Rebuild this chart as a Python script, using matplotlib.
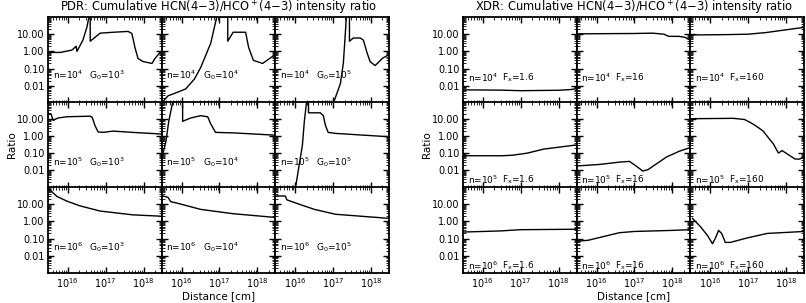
import matplotlib
matplotlib.use("Agg")
import matplotlib.pyplot as plt
from matplotlib.ticker import FixedLocator, LogLocator, NullFormatter

plt.rcParams["font.family"] = ["DejaVu Sans"]
plt.rcParams["mathtext.fontset"] = "dejavusans"

# --- PDR panels (distance in cm, cumulative HCN/HCO+ ratio) ---
pdr_n4_g3_x = [3.0e15, 6.3e15, 1.29e16, 1.66e16, 1.74e16, 2.5e16, 3.2e16, 3.6e16, 3.9e16, 3.9e16,
               7.1e16, 1.6e17, 3.9e17, 4.9e17, 5.9e17, 7.1e17, 9.5e17, 1.66e18, 2.0e18, 2.7e18, 3.0e18]
pdr_n4_g3_y = [0.87, 0.87, 1.2, 2.0, 1.0, 4.5, 26, 100, 100, 3.9,
               11.5, 13, 14.5, 11, 1.7, 0.39, 0.26, 0.2, 0.39, 0.87, 0.9]
pdr_n4_g4_x = [3.0e15, 4.4e15, 9.5e15, 1.29e16, 2.2e16, 3.2e16, 4.5e16, 5.9e16, 8.5e16, 1.66e17,
               1.66e17, 2.3e17, 4.9e17, 5.9e17, 7.9e17, 1.38e18, 2.5e18, 3.0e18]
pdr_n4_g4_y = [0.001, 0.0026, 0.005, 0.0066, 0.025, 0.115, 0.7, 3.0, 100, 100,
               3.9, 13, 13, 1.7, 0.3, 0.2, 0.5, 0.6]
pdr_n4_g5_x = [1.02e17, 1.55e17, 1.86e17, 2.24e17, 2.7e17, 2.7e17, 3.4e17, 5.2e17, 6.3e17, 7.9e17,
               9.5e17, 1.29e18, 2.0e18, 2.8e18, 3.0e18]
pdr_n4_g5_y = [0.001, 0.013, 0.2, 100, 100, 3.9, 6, 6, 4.5, 0.8,
               0.25, 0.15, 0.4, 0.6, 0.6]

pdr_n5_g3_x = [3.0e15, 3.6e15, 4.1e15, 5.5e15, 9.5e15, 3.9e16, 4.4e16, 5.2e16, 6.3e16, 8.5e16,
               1.55e17, 5.2e17, 2.7e18, 3.0e18]
pdr_n5_g3_y = [20, 19, 8, 11, 13, 14, 12, 4, 1.7, 1.6, 1.9, 1.6, 1.3, 1.3]
pdr_n5_g4_x = [3.2e15, 3.9e15, 4.6e15, 5.9e15, 1.07e16, 1.07e16, 1.74e16, 3.2e16, 4.9e16, 5.9e16,
               7.9e16, 2.3e17, 3.0e18]
pdr_n5_g4_y = [0.085, 0.5, 7, 100, 100, 7, 11, 15, 13, 5, 1.6, 1.5, 1.1]
pdr_n5_g5_x = [1.02e16, 1.23e16, 1.55e16, 1.74e16, 2.0e16, 2.24e16, 2.24e16, 4.6e16, 5.5e16, 6.3e16,
               7.4e16, 1.15e17, 2.8e18]
pdr_n5_g5_y = [0.001, 0.013, 0.3, 7, 100, 100, 22, 22, 15, 4, 1.6, 1.4, 0.9]

pdr_n6_g3_x = [3.0e15, 4.1e15, 5.2e15, 9.5e15, 2.1e16, 7.1e16, 5.2e17, 3.0e18]
pdr_n6_g3_y = [90, 45, 28, 15, 8, 4, 2.4, 2.0]
pdr_n6_g4_x = [3.2e15, 4.4e15, 5.2e15, 7.1e15, 3.2e16, 2.3e17, 3.0e18]
pdr_n6_g4_y = [30, 25, 14, 12, 5, 2.8, 1.7]
pdr_n6_g5_x = [3.0e15, 5.5e15, 6.0e15, 1.0e16, 3.2e16, 1.15e17, 3.0e18]
pdr_n6_g5_y = [30, 30, 18, 12, 5, 2.6, 1.5]

# --- XDR panels ---
xdr_n4_f1_x = [3.0e15, 3e16, 1e17, 1e18, 2e18, 3.0e18]
xdr_n4_f1_y = [0.0058, 0.0056, 0.0052, 0.0055, 0.006, 0.0068]
xdr_n4_f16_x = [3.0e15, 1e17, 3e17, 6e17, 8e17, 1.5e18, 2.2e18, 3.0e18]
xdr_n4_f16_y = [10.5, 11, 11.5, 10, 7.5, 7.5, 6.5, 4.5]
xdr_n4_f160_x = [3.0e15, 3e16, 1e17, 3e17, 1e18, 3e18]
xdr_n4_f160_y = [9.0, 9.5, 10, 12.5, 18, 25]

xdr_n5_f1_x = [3.0e15, 3e16, 6e16, 1.5e17, 4e17, 1e18, 3e18]
xdr_n5_f1_y = [0.07, 0.07, 0.075, 0.1, 0.17, 0.22, 0.3]
xdr_n5_f16_x = [3.2e15, 1.23e16, 4.1e16, 7.4e16, 1.1e17, 1.66e17, 2.3e17, 3.4e17, 7.1e17, 1.55e18, 2.8e18]
xdr_n5_f16_y = [0.018, 0.022, 0.03, 0.033, 0.018, 0.009, 0.011, 0.02, 0.06, 0.13, 0.2]
xdr_n5_f160_x = [3.2e15, 4.1e16, 8e16, 1.15e17, 1.7e17, 2.5e17, 3.4e17, 4.6e17, 6.3e17, 7.9e17,
                 1.07e18, 1.74e18, 2.3e18, 3.0e18]
xdr_n5_f160_y = [10, 10.5, 9, 6, 3.5, 1.9, 0.8, 0.35, 0.1, 0.14, 0.09, 0.045, 0.045, 0.065]

xdr_n6_f1_x = [3.0e15, 3e16, 1e17, 3e18]
xdr_n6_f1_y = [0.24, 0.28, 0.33, 0.35]
xdr_n6_f16_x = [3.0e15, 6e15, 1.5e16, 4e16, 1e17, 1e18, 3e18]
xdr_n6_f16_y = [0.07, 0.08, 0.13, 0.22, 0.26, 0.3, 0.33]
xdr_n6_f160_x = [3.4e15, 5.5e15, 8.5e15, 1.15e16, 1.38e16, 1.66e16, 2.0e16, 2.5e16, 3.4e16, 9.5e16, 3.2e17, 3.0e18]
xdr_n6_f160_y = [1.5, 0.5, 0.15, 0.05, 0.11, 0.3, 0.2, 0.06, 0.06, 0.11, 0.2, 0.26]

density_labels = [r"n=10$^4$", r"n=10$^5$", r"n=10$^6$"]
g0_labels = [r"G$_0$=10$^3$", r"G$_0$=10$^4$", r"G$_0$=10$^5$"]
fx_labels = [r"F$_\mathregular{x}$=1.6", r"F$_\mathregular{x}$=16", r"F$_\mathregular{x}$=160"]
ytick_values = [0.01, 0.1, 1.0, 10.0]
ytick_labels = ["0.01", "0.10", "1.00", "10.00"]

pdr_curves = [
    [(pdr_n4_g3_x, pdr_n4_g3_y), (pdr_n4_g4_x, pdr_n4_g4_y), (pdr_n4_g5_x, pdr_n4_g5_y)],
    [(pdr_n5_g3_x, pdr_n5_g3_y), (pdr_n5_g4_x, pdr_n5_g4_y), (pdr_n5_g5_x, pdr_n5_g5_y)],
    [(pdr_n6_g3_x, pdr_n6_g3_y), (pdr_n6_g4_x, pdr_n6_g4_y), (pdr_n6_g5_x, pdr_n6_g5_y)],
]
xdr_curves = [
    [(xdr_n4_f1_x, xdr_n4_f1_y), (xdr_n4_f16_x, xdr_n4_f16_y), (xdr_n4_f160_x, xdr_n4_f160_y)],
    [(xdr_n5_f1_x, xdr_n5_f1_y), (xdr_n5_f16_x, xdr_n5_f16_y), (xdr_n5_f160_x, xdr_n5_f160_y)],
    [(xdr_n6_f1_x, xdr_n6_f1_y), (xdr_n6_f16_x, xdr_n6_f16_y), (xdr_n6_f160_x, xdr_n6_f160_y)],
]

W, H = 806, 303
fig = plt.figure(figsize=(W / 100, H / 100), dpi=100)

col_w = 113.7
row_tops = [17, 101.5, 187]
row_h = 86


def draw_group(x0, curves, second_labels, label_y, title):
    for r in range(3):
        for c in range(3):
            left = (x0 + c * col_w) / W
            bottom = 1 - (row_tops[r] + row_h) / H
            ax = fig.add_axes([left, bottom, col_w / W, row_h / H])
            xs, ys = curves[r][c]
            ax.plot(xs, ys, color="black", lw=1.0)
            ax.set_xscale("log")
            ax.set_yscale("log")
            ax.set_xlim(3e15, 3e18)
            ax.set_ylim(1e-3, 1e2)
            ax.yaxis.set_major_locator(FixedLocator(ytick_values))
            ax.yaxis.set_minor_locator(LogLocator(base=10, subs=range(2, 10), numticks=20))
            ax.xaxis.set_major_locator(FixedLocator([1e16, 1e17, 1e18]))
            ax.xaxis.set_minor_locator(LogLocator(base=10, subs=range(2, 10), numticks=20))
            ax.yaxis.set_minor_formatter(NullFormatter())
            ax.xaxis.set_minor_formatter(NullFormatter())
            if c == 0:
                ax.set_yticklabels(ytick_labels)
            else:
                ax.set_yticklabels([])
            if r < 2:
                ax.set_xticklabels([])
            ax.tick_params(which="both", direction="in", top=True, right=True,
                           labelsize=7, pad=2.5)
            ax.tick_params(which="major", length=4, width=1.0)
            ax.tick_params(which="minor", length=2, width=0.6)
            for s in ax.spines.values():
                s.set_linewidth(1.3)
            ax.text(0.04, label_y[r], density_labels[r], transform=ax.transAxes,
                    fontsize=6.5, va="center", ha="left")
            ax.text(second_labels[1], label_y[r], second_labels[0][c], transform=ax.transAxes,
                    fontsize=6.5, va="center", ha="left")
    xc = (x0 + 1.5 * col_w) / W
    fig.text(xc, 1 - 8 / H, title, ha="center", va="center", fontsize=8.3)
    fig.text(xc, 1 - 296 / H, "Distance [cm]", ha="center", va="center", fontsize=7.5)
    fig.text((x0 - 36) / W, 1 - 145 / H, "Ratio", ha="center", va="center",
             rotation=90, fontsize=7.5)


draw_group(48, pdr_curves, (g0_labels, 0.36), [0.33, 0.30, 0.30],
           r"PDR: Cumulative HCN(4$-$3)/HCO$^+$(4$-$3) intensity ratio")
draw_group(463, xdr_curves, (fx_labels, 0.34), [0.29, 0.09, 0.08],
           r"XDR: Cumulative HCN(4$-$3)/HCO$^+$(4$-$3) intensity ratio")

fig.savefig("out.png", dpi=100)
